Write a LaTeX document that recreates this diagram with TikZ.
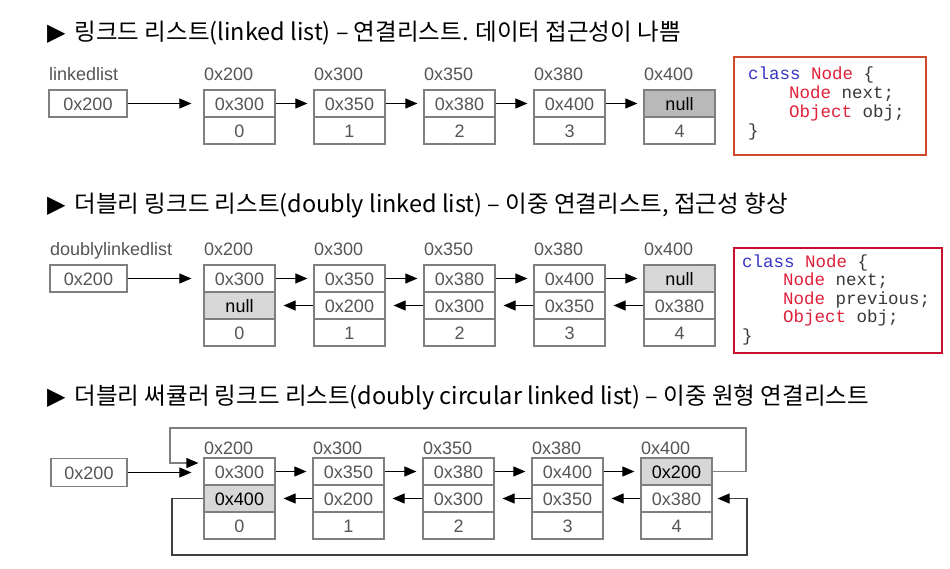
\documentclass[tikz,border=0pt]{standalone}
\usepackage{fontspec}
\usetikzlibrary{arrows.meta}
\newfontfamily\krfont{Noto Sans CJK KR}
\newfontfamily\cellfont{Liberation Sans}
\newfontfamily\codefont{Liberation Mono}
\newfontfamily\symfont{DejaVu Sans}
\definecolor{boxgray}{HTML}{7F7F7F}
\definecolor{txtgray}{HTML}{555555}
\definecolor{nullA}{HTML}{B9B9B9}
\definecolor{nullB}{HTML}{D7D7D7}
\definecolor{kwblue}{HTML}{3535C8}
\definecolor{kwred}{HTML}{E0203A}
\definecolor{codegray}{HTML}{383838}
\definecolor{boxA}{HTML}{D0482A}
\definecolor{boxB}{HTML}{C8102E}
\begin{document}
\begin{tikzpicture}[x=1pt,y=-1pt,
  cell/.style={draw=boxgray, line width=1.2pt, minimum width=71pt, minimum height=27pt,
    inner sep=0pt, text height=13pt, text depth=0pt,
    font=\cellfont\fontsize{18}{20}\selectfont, text=txtgray},
  headbox/.style={cell, minimum width=78pt},
  darkcell/.style={cell, fill=nullA, text=black},
  lightcell/.style={cell, fill=nullB, text=black},
  lbl/.style={anchor=west, inner sep=0pt, font=\cellfont\fontsize{18}{20}\selectfont,
    text=txtgray, text height=13pt, text depth=0pt},
  arr/.style={-{Triangle[length=12pt,width=10pt]}, line width=1pt, black},
  looptop/.style={-{Triangle[length=12pt,width=10pt,color=black]}, line width=1.2pt, boxgray},
  loopbot/.style={-{Triangle[length=12pt,width=10pt,color=black]}, line width=1.2pt, black!75},
  title/.style={anchor=base west, inner sep=0pt, font=\krfont\fontsize{23.5}{26}\selectfont},
  code/.style={anchor=base west, inner sep=0pt, font=\codefont\fontsize{17.5}{19}\selectfont, text=codegray}
]
\fill[white] (0,0) rectangle (950,568);
\useasboundingbox (0,0) rectangle (950,568);

% ---------------- titles ----------------
\node[title] (t1) at (47,40) {{\symfont\fontsize{24}{24}\selectfont ▶}\hspace{9pt}링크드 리스트(linked list) – 연결리스트. 데이터 접근성이 나쁨};
\node[title] (t2) at (47,212) {{\symfont\fontsize{24}{24}\selectfont ▶}\hspace{9pt}더블리 링크드 리스트(doubly linked list) – 이중 연결리스트, 접근성 향상};
\node[title] (t3) at (47,404) {{\symfont\fontsize{24}{24}\selectfont ▶}\hspace{9pt}더블리 써큘러 링크드 리스트(doubly circular linked list) – 이중 원형 연결리스트};

% ---------------- section A: linked list ----------------
\node[lbl] (alab) at (49,74) {linkedlist};
\node[headbox] (ahead) at (88,103.5) {0x200};
\foreach \i/\nx/\ad in {0/0x300/0x200,1/0x350/0x300,2/0x380/0x350,3/0x400/0x380}{
  \node[cell] (a\i n) at ({239.5+110*\i},103.5) {\nx};
  \node[cell] (a\i d) at ({239.5+110*\i},130.5) {\i};
  \node[lbl] (a\i a) at ({204+110*\i},74) {\ad};
}
\node[darkcell] (a4n) at (679.5,103.5) {null};
\node[cell] (a4d) at (679.5,130.5) {4};
\node[lbl] (a4a) at (644,74) {0x400};
\draw[arr, shorten >=12pt] (ahead.east) -- (a0n.west);
\foreach \i/\j in {0/1,1/2,2/3,3/4}{
  \draw[arr, shorten >=6pt] (a\i n.east) -- (a\j n.west);
}
\draw[boxA, line width=1.2pt] (734,57) rectangle (926,155);
\node[code] (ca1) at (748,79) {\textcolor{kwblue}{class} \textcolor{kwred}{Node} \{};
\node[code] (ca2) at (789,98) {\textcolor{kwred}{Node} next;};
\node[code] (ca3) at (789,117) {\textcolor{kwred}{Object} obj;};
\node[code] (ca4) at (748,136) {\}};

% ---------------- section B: doubly linked list ----------------
\node[lbl] (blab) at (50,249) {doublylinkedlist};
\node[headbox, minimum width=77pt] (bhead) at (88.5,278.5) {0x200};
\node[cell] (b0n) at (239.5,278.5) {0x300};
\node[lightcell] (b0p) at (239.5,305.5) {null};
\node[cell] (b0d) at (239.5,332.5) {0};
\node[lbl] (b0a) at (204,249) {0x200};
\foreach \i/\nx/\pv/\ad in {1/0x350/0x200/0x300,2/0x380/0x300/0x350,3/0x400/0x350/0x380}{
  \node[cell] (b\i n) at ({239.5+110*\i},278.5) {\nx};
  \node[cell] (b\i p) at ({239.5+110*\i},305.5) {\pv};
  \node[cell] (b\i d) at ({239.5+110*\i},332.5) {\i};
  \node[lbl] (b\i a) at ({204+110*\i},249) {\ad};
}
\node[lightcell] (b4n) at (679.5,278.5) {null};
\node[cell] (b4p) at (679.5,305.5) {0x380};
\node[cell] (b4d) at (679.5,332.5) {4};
\node[lbl] (b4a) at (644,249) {0x400};
\draw[arr, shorten >=12pt] (bhead.east) -- (b0n.west);
\foreach \i/\j in {0/1,1/2,2/3,3/4}{
  \draw[arr, shorten >=6pt] (b\i n.east) -- (b\j n.west);
  \draw[arr, shorten >=8pt] (b\j p.west) -- (b\i p.east);
}
\draw[boxB, line width=1.2pt] (734,248) rectangle (942,353);
\node[code] (cb1) at (742,267) {\textcolor{kwblue}{class} \textcolor{kwred}{Node} \{};
\node[code] (cb2) at (783,285.5) {\textcolor{kwred}{Node} next;};
\node[code] (cb3) at (783,304) {\textcolor{kwred}{Node} previous;};
\node[code] (cb4) at (783,322.5) {\textcolor{kwred}{Object} obj;};
\node[code] (cb5) at (742,341) {\}};

% ---------------- section C: doubly circular linked list ----------------
\node[headbox, minimum width=76pt, minimum height=28pt] (chead) at (89,472.5) {0x200};
\node[cell] (c0n) at (239.5,471.5) {0x300};
\node[lightcell] (c0p) at (239.5,498.5) {0x400};
\node[cell] (c0d) at (239.5,525.5) {0};
\node[lbl] (c0a) at (204,448) {0x200};
\foreach \i/\xc/\xl/\nx/\pv/\ad in {1/348.5/313/0x350/0x200/0x300,2/458.5/423/0x380/0x300/0x350,3/567.5/532/0x400/0x350/0x380}{
  \node[cell] (c\i n) at (\xc,471.5) {\nx};
  \node[cell] (c\i p) at (\xc,498.5) {\pv};
  \node[cell] (c\i d) at (\xc,525.5) {\i};
  \node[lbl] (c\i a) at (\xl,448) {\ad};
}
\node[lightcell] (c4n) at (676.5,471.5) {0x200};
\node[cell] (c4p) at (676.5,498.5) {0x380};
\node[cell] (c4d) at (676.5,525.5) {4};
\node[lbl] (c4a) at (641,448) {0x400};
\draw[arr, shorten >=12pt] (chead.east) -- (chead.east -| c0n.west);
\foreach \i/\j in {0/1,1/2,2/3,3/4}{
  \draw[arr, shorten >=6pt] (c\i n.east) -- (c\j n.west);
  \draw[arr, shorten >=8pt] (c\j p.west) -- (c\i p.east);
}
\coordinate (ctr) at (746,428);
\coordinate (ctl) at (170,428);
\coordinate (cin) at (170,463);
\draw[looptop, shorten >=5pt] (c4n.east) -| (ctr) -- (ctl) -- (cin) -- (cin -| c0n.west);
\coordinate (cbl) at (172,555);
\coordinate (cbr) at (747,555);
\draw[loopbot, shorten >=5pt] (c0p.west) -| (cbl) -- (cbr) |- (c4p.east);
\end{tikzpicture}
\end{document}
